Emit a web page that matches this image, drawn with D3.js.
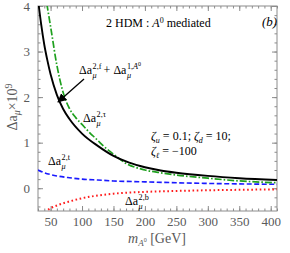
<!DOCTYPE html>
<html>
<head>
<meta charset="utf-8">
<script src="https://cdn.jsdelivr.net/npm/d3@7"></script>
<style>
  body { margin: 0; background: #fff; }
  svg text { font-family: "Liberation Serif", "DejaVu Serif", serif; }
</style>
</head>
<body>
<div id="chart"></div>
<script>
// values (Δa_μ × 10^9 against m_A0 in GeV)
const massBlack = [30, 35, 40, 45, 50, 60, 70, 80, 100, 125, 150, 175, 200, 225, 250, 300, 350, 410];
const totalVals = [4.15, 3.6, 3.15, 2.8, 2.5, 2.05, 1.74, 1.52, 1.2, 0.93, 0.71, 0.56, 0.46, 0.39, 0.34, 0.27, 0.22, 0.18];

const massGreen = [44, 50, 60, 70, 80, 90, 100, 110, 125, 133, 150, 167, 200, 225, 250, 300, 350, 410];
const tauVals = [4.05, 3.55, 2.7, 2.1, 1.75, 1.55, 1.4, 1.25, 1.05, 0.94, 0.75, 0.57, 0.4, 0.34, 0.29, 0.22, 0.16, 0.12];

const massBlue = [30, 40, 50, 60, 80, 100, 125, 150, 200, 250, 300, 350, 410];
const topVals = [0.40, 0.34, 0.30, 0.27, 0.23, 0.2, 0.18, 0.16, 0.14, 0.12, 0.105, 0.095, 0.085];

const massRed = [42, 45, 50, 60, 70, 80, 100, 125, 150, 200, 250, 300, 350, 410];
const bottomVals = [-0.55, -0.49, -0.44, -0.38, -0.33, -0.29, -0.22, -0.16, -0.12, -0.08, -0.06, -0.045, -0.035, -0.025];

const xTicks = [50, 100, 150, 200, 250, 300, 350, 400];
const yTicks = [0, 1, 2, 3, 4];

const width = 290, height = 253;
const plotLeft = 38, plotRight = 277, plotTop = 6, plotBottom = 211;

const svg = d3.select('#chart').append('svg')
	.attr('width', width)
	.attr('height', height);

const x = d3.scaleLinear().domain([30, 410]).range([plotLeft, plotRight]);
const y = d3.scaleLinear().domain([-0.5, 4]).range([plotBottom, plotTop]);

svg.append('clipPath').attr('id', 'plotclip')
	.append('rect')
	.attr('x', plotLeft).attr('y', plotTop)
	.attr('width', plotRight - plotLeft).attr('height', plotBottom - plotTop);

// axes: inward ticks on all four sides
const minorX = d3.range(30, 411, 10);
const minorY = d3.range(-0.4, 4.01, 0.2);
const tickColor = '#8c8c8c';

function styleAxis(g){
	g.select('.domain').remove();
	g.selectAll('line').attr('stroke', tickColor);
	g.selectAll('text')
		.attr('fill', '#5a5a5a')
		.style('font-size', '13px')
		.style('font-family', '"Liberation Serif", serif');
}

svg.append('g').attr('transform', `translate(0,${plotBottom})`)
	.call(d3.axisBottom(x).tickValues(xTicks).tickSize(-5).tickPadding(6).tickFormat(d3.format('d')))
	.call(styleAxis);
svg.append('g').attr('transform', `translate(0,${plotBottom})`)
	.call(d3.axisBottom(x).tickValues(minorX).tickSize(-2.5).tickFormat(''))
	.call(styleAxis);
svg.append('g').attr('transform', `translate(0,${plotTop})`)
	.call(d3.axisTop(x).tickValues(xTicks).tickSize(-5).tickFormat(''))
	.call(styleAxis);
svg.append('g').attr('transform', `translate(0,${plotTop})`)
	.call(d3.axisTop(x).tickValues(minorX).tickSize(-2.5).tickFormat(''))
	.call(styleAxis);

svg.append('g').attr('transform', `translate(${plotLeft},0)`)
	.call(d3.axisLeft(y).tickValues(yTicks).tickSize(-5).tickPadding(8).tickFormat(d3.format('d')))
	.call(styleAxis);
svg.append('g').attr('transform', `translate(${plotLeft},0)`)
	.call(d3.axisLeft(y).tickValues(minorY).tickSize(-2.5).tickFormat(''))
	.call(styleAxis);
svg.append('g').attr('transform', `translate(${plotRight},0)`)
	.call(d3.axisRight(y).tickValues(yTicks).tickSize(-5).tickFormat(''))
	.call(styleAxis);
svg.append('g').attr('transform', `translate(${plotRight},0)`)
	.call(d3.axisRight(y).tickValues(minorY).tickSize(-2.5).tickFormat(''))
	.call(styleAxis);

svg.append('rect')
	.attr('x', plotLeft).attr('y', plotTop)
	.attr('width', plotRight - plotLeft).attr('height', plotBottom - plotTop)
	.attr('fill', 'none')
	.attr('stroke', tickColor)
	.attr('stroke-width', 1);

// curves
const line = d3.line()
	.x(d => x(d[0]))
	.y(d => y(d[1]))
	.curve(d3.curveMonotoneX);

const curves = svg.append('g').attr('clip-path', 'url(#plotclip)');

const series = [
	{m: massRed, v: bottomVals, color: '#ff1a1a', width: 2, dash: '1.6,2.6'},
	{m: massBlue, v: topVals, color: '#1a1aff', width: 1.6, dash: '5,2.5'},
	{m: massGreen, v: tauVals, color: '#1ea01e', width: 1.7, dash: '7,2,1.6,2'},
	{m: massBlack, v: totalVals, color: '#000', width: 1.9, dash: null}
];

series.forEach(s => {
	curves.append('path')
		.datum(d3.zip(s.m, s.v))
		.attr('d', line)
		.attr('fill', 'none')
		.attr('stroke', s.color)
		.attr('stroke-width', s.width)
		.attr('stroke-dasharray', s.dash);
});

// labels
const fs = 12;

// Δa with stacked super/subscript; sup is a list of [text, italic, raised]
function deltaA(g, x0, y0, sup){
	const base = g.append('text').attr('x', x0).attr('y', y0)
		.style('font-size', fs + 'px').text('Δa');
	const w = base.node().getComputedTextLength() + 0.5;
	const s = g.append('text').attr('x', x0 + w).attr('y', y0 - fs * 0.42)
		.style('font-size', (fs * 0.68) + 'px');
	sup.forEach(p => {
		s.append('tspan')
			.style('font-style', p[1] ? 'italic' : 'normal')
			.style('font-size', p[2] ? (fs * 0.5) + 'px' : null)
			.attr('dy', p[2] ? -3 : null)
			.text(p[0]);
	});
	const u = g.append('text').attr('x', x0 + w).attr('y', y0 + fs * 0.3)
		.style('font-size', (fs * 0.68) + 'px').style('font-style', 'italic').text('μ');
	return x0 + w + Math.max(s.node().getComputedTextLength(), u.node().getComputedTextLength());
}

const notes = svg.append('g');

notes.append('text').attr('x', 106).attr('y', 27).style('font-size', fs + 'px')
	.call(t => {
		t.append('tspan').text('2 HDM : ');
		t.append('tspan').style('font-style', 'italic').text('A');
		t.append('tspan').attr('dy', -4).style('font-size', '8px').text('0');
		t.append('tspan').attr('dy', 4).text(' mediated');
	});

notes.append('text').attr('x', 262).attr('y', 26).style('font-size', '13px')
	.style('font-style', 'italic').text('(b)');

let xe = deltaA(notes, 79, 74, [['2,f']]);
notes.append('text').attr('x', xe + 2).attr('y', 74).style('font-size', fs + 'px').text('+');
deltaA(notes, xe + 12, 74, [['1,'], ['A', true], ['0', false, true]]);

deltaA(notes, 83, 122, [['2,τ']]);
deltaA(notes, 48, 165, [['2,t']]);
deltaA(notes, 125, 205, [['2,b']]);

// arrow to the total curve
svg.append('defs').append('marker')
	.attr('id', 'head')
	.attr('viewBox', '0 0 10 10')
	.attr('refX', 9).attr('refY', 5)
	.attr('markerWidth', 7).attr('markerHeight', 7)
	.attr('orient', 'auto')
	.append('path').attr('d', 'M0,0L10,5L0,10z').attr('fill', '#000');

notes.append('line')
	.attr('x1', 84).attr('y1', 79)
	.attr('x2', 58).attr('y2', 102)
	.attr('stroke', '#000').attr('stroke-width', 1.3)
	.attr('marker-end', 'url(#head)');

// couplings
notes.append('text').attr('x', 151).attr('y', 140).style('font-size', fs + 'px')
	.call(t => {
		t.append('tspan').style('font-style', 'italic').text('ζ');
		t.append('tspan').attr('dy', 3).style('font-size', '8px').style('font-style', 'italic').text('u');
		t.append('tspan').attr('dy', -3).text(' = 0.1;  ');
		t.append('tspan').style('font-style', 'italic').text('ζ');
		t.append('tspan').attr('dy', 3).style('font-size', '8px').style('font-style', 'italic').text('d');
		t.append('tspan').attr('dy', -3).text(' = 10;');
	});
notes.append('text').attr('x', 151).attr('y', 155).style('font-size', fs + 'px')
	.call(t => {
		t.append('tspan').style('font-style', 'italic').text('ζ');
		t.append('tspan').attr('dy', 3).style('font-size', '8px').style('font-style', 'italic').text('ℓ');
		t.append('tspan').attr('dy', -3).text(' = −100');
	});

// axis titles
const yl = svg.append('text')
	.attr('transform', 'translate(17,107) rotate(-90)')
	.attr('text-anchor', 'middle')
	.attr('fill', '#5a5a5a')
	.style('font-size', '14px');
yl.append('tspan').text('Δa');
yl.append('tspan').attr('dy', 3).style('font-size', '10px').style('font-style', 'italic').text('μ');
yl.append('tspan').attr('dy', -3).text('×10');
yl.append('tspan').attr('dy', -5).style('font-size', '10px').text('9');

const xl = svg.append('text')
	.attr('x', 157).attr('y', 243)
	.attr('text-anchor', 'middle')
	.attr('fill', '#5a5a5a')
	.style('font-size', '14px');
xl.append('tspan').style('font-style', 'italic').text('m');
xl.append('tspan').attr('dy', 3).style('font-size', '9px').style('font-style', 'italic').text('A');
xl.append('tspan').attr('dy', -4).style('font-size', '6px').text('0');
xl.append('tspan').attr('dy', 1).text(' [GeV]');
</script>
</body>
</html>
